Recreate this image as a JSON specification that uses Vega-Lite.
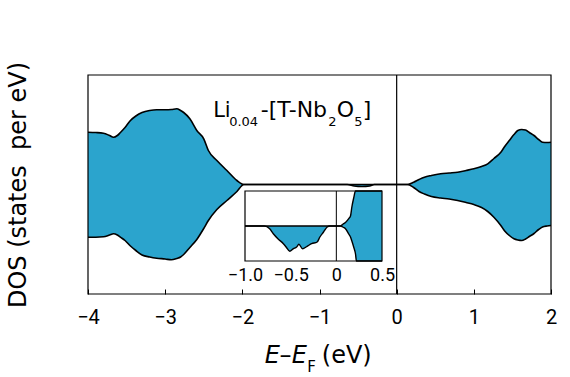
{
  "$schema": "https://vega.github.io/schema/vega-lite/v6.json",
  "width": 463,
  "height": 219,
  "autosize": "none",
  "padding": {"left": 88, "top": 75, "right": 19, "bottom": 83},
  "background": "white",
  "config": {"view": {"stroke": null}},
  "layer": [
    {
      "data": {"values": [
        {"x": -4.00, "up": 52.3, "down": -52.7},
        {"x": -3.90, "up": 52.0, "down": -52.7},
        {"x": -3.80, "up": 51.3, "down": -52.3},
        {"x": -3.72, "up": 49.0, "down": -50.5},
        {"x": -3.67, "up": 47.3, "down": -49.3},
        {"x": -3.62, "up": 49.0, "down": -50.5},
        {"x": -3.58, "up": 52.0, "down": -52.7},
        {"x": -3.52, "up": 57.0, "down": -56.0},
        {"x": -3.45, "up": 64.0, "down": -61.5},
        {"x": -3.38, "up": 68.5, "down": -66.0},
        {"x": -3.30, "up": 72.0, "down": -70.5},
        {"x": -3.20, "up": 74.0, "down": -72.5},
        {"x": -3.11, "up": 74.7, "down": -73.7},
        {"x": -3.00, "up": 74.7, "down": -74.5},
        {"x": -2.92, "up": 75.0, "down": -75.3},
        {"x": -2.85, "up": 75.7, "down": -74.0},
        {"x": -2.80, "up": 74.0, "down": -72.5},
        {"x": -2.76, "up": 72.0, "down": -70.0},
        {"x": -2.68, "up": 65.7, "down": -63.0},
        {"x": -2.59, "up": 54.0, "down": -55.0},
        {"x": -2.50, "up": 45.7, "down": -44.0},
        {"x": -2.44, "up": 34.0, "down": -36.0},
        {"x": -2.33, "up": 24.0, "down": -25.0},
        {"x": -2.20, "up": 14.0, "down": -16.0},
        {"x": -2.07, "up": 4.0, "down": -7.0},
        {"x": -1.98, "up": 0, "down": 0},
        {"x": -1.50, "up": 0, "down": 0},
        {"x": -0.64, "up": 0, "down": 0},
        {"x": -0.55, "up": 0, "down": -1.5},
        {"x": -0.45, "up": 0, "down": -2.0},
        {"x": -0.35, "up": 0, "down": -1.5},
        {"x": -0.29, "up": 0, "down": 0},
        {"x": 0.00, "up": 0, "down": 0},
        {"x": 0.14, "up": 0, "down": 0},
        {"x": 0.22, "up": 2.3, "down": -3.0},
        {"x": 0.29, "up": 5.0, "down": -7.0},
        {"x": 0.36, "up": 7.3, "down": -9.5},
        {"x": 0.45, "up": 9.0, "down": -12.0},
        {"x": 0.57, "up": 10.7, "down": -13.5},
        {"x": 0.68, "up": 11.5, "down": -14.5},
        {"x": 0.79, "up": 12.3, "down": -16.0},
        {"x": 0.90, "up": 14.0, "down": -18.0},
        {"x": 1.00, "up": 15.7, "down": -20.0},
        {"x": 1.10, "up": 18.0, "down": -23.0},
        {"x": 1.18, "up": 20.7, "down": -27.0},
        {"x": 1.26, "up": 26.0, "down": -32.7},
        {"x": 1.35, "up": 32.3, "down": -41.0},
        {"x": 1.40, "up": 38.0, "down": -46.5},
        {"x": 1.46, "up": 44.0, "down": -51.0},
        {"x": 1.52, "up": 50.0, "down": -54.3},
        {"x": 1.57, "up": 54.0, "down": -55.5},
        {"x": 1.62, "up": 55.0, "down": -56.0},
        {"x": 1.67, "up": 54.5, "down": -54.5},
        {"x": 1.72, "up": 52.0, "down": -52.0},
        {"x": 1.78, "up": 49.0, "down": -49.0},
        {"x": 1.84, "up": 45.0, "down": -45.0},
        {"x": 1.89, "up": 42.3, "down": -42.5},
        {"x": 1.95, "up": 42.0, "down": -41.5},
        {"x": 2.00, "up": 42.3, "down": -41.0}
      ]},
      "layer": [
        {
          "mark": {"type": "area", "color": "#2ba4cd", "interpolate": "monotone", "opacity": 1},
          "encoding": {
            "x": {"field": "x", "type": "quantitative",
              "scale": {"domain": [-4, 2], "nice": false, "zero": false},
              "axis": {"orient": "bottom", "offset": -5, "values": [-4, -3, -2, -1, 0, 1, 2], "format": "d", "title": null,
                "labelFont": "Roboto", "labelFontSize": 20, "labelColor": "black", "labelFlush": false,
                "tickSize": 5, "tickColor": "black", "tickWidth": 1, "labelPadding": 13, "domain": false, "grid": false}},
            "y": {"field": "up", "type": "quantitative",
              "scale": {"domain": [-109.5, 109.5], "nice": false, "zero": false},
              "axis": {"title": "DOS (states\u00a0 per eV)", "titleFont": "DejaVu Sans", "titleFontSize": 24,
                "titleFontWeight": "normal", "titleColor": "black", "titlePadding": 58,
                "labels": false, "ticks": false, "domain": false, "grid": false}},
            "y2": {"field": "down"}
          }
        },
        {
          "mark": {"type": "line", "color": "black", "strokeWidth": 1.6, "interpolate": "monotone"},
          "encoding": {
            "x": {"field": "x", "type": "quantitative"},
            "y": {"field": "up", "type": "quantitative"}
          }
        },
        {
          "mark": {"type": "line", "color": "black", "strokeWidth": 1.6, "interpolate": "monotone"},
          "encoding": {
            "x": {"field": "x", "type": "quantitative"},
            "y": {"field": "down", "type": "quantitative"}
          }
        },
        {
          "data": {"values": [{}]},
          "mark": {"type": "rule", "color": "black", "strokeWidth": 1.2},
          "encoding": {"x": {"datum": 0}, "y": {"datum": -109.5}, "y2": {"datum": 109.5}}
        },
        {
          "data": {"values": [{}]},
          "mark": {"type": "rect", "fillOpacity": 0, "stroke": "black", "strokeWidth": 1.2},
          "encoding": {"x": {"datum": -4}, "x2": {"datum": 2}, "y": {"datum": -109.5}, "y2": {"datum": 109.5}}
        },
        {
          "data": {"values": [{}]},
          "mark": {"type": "text", "text": "Li", "align": "left", "baseline": "alphabetic", "font": "DejaVu Sans", "fontSize": 21, "color": "black"},
          "encoding": {"x": {"datum": -2.378}, "y": {"datum": 67.8}}
        },
        {
          "data": {"values": [{}]},
          "mark": {"type": "text", "text": "0.04", "align": "left", "baseline": "alphabetic", "font": "DejaVu Sans", "fontSize": 13, "color": "black"},
          "encoding": {"x": {"datum": -2.171}, "y": {"datum": 58.8}}
        },
        {
          "data": {"values": [{}]},
          "mark": {"type": "text", "text": "-[T-Nb", "align": "left", "baseline": "alphabetic", "font": "DejaVu Sans", "fontSize": 22, "color": "black"},
          "encoding": {"x": {"datum": -1.761}, "y": {"datum": 67.8}}
        },
        {
          "data": {"values": [{}]},
          "mark": {"type": "text", "text": "2", "align": "left", "baseline": "alphabetic", "font": "DejaVu Sans", "fontSize": 13, "color": "black"},
          "encoding": {"x": {"datum": -0.885}, "y": {"datum": 58.8}}
        },
        {
          "data": {"values": [{}]},
          "mark": {"type": "text", "text": "O", "align": "left", "baseline": "alphabetic", "font": "DejaVu Sans", "fontSize": 22, "color": "black"},
          "encoding": {"x": {"datum": -0.775}, "y": {"datum": 67.8}}
        },
        {
          "data": {"values": [{}]},
          "mark": {"type": "text", "text": "5", "align": "left", "baseline": "alphabetic", "font": "DejaVu Sans", "fontSize": 13, "color": "black"},
          "encoding": {"x": {"datum": -0.55}, "y": {"datum": 58.8}}
        },
        {
          "data": {"values": [{}]},
          "mark": {"type": "text", "text": "]", "align": "left", "baseline": "alphabetic", "font": "DejaVu Sans", "fontSize": 22, "color": "black"},
          "encoding": {"x": {"datum": -0.44}, "y": {"datum": 67.8}}
        },
        {
          "data": {"values": [{}]},
          "mark": {"type": "text", "text": "E", "align": "left", "baseline": "alphabetic", "font": "DejaVu Sans", "fontStyle": "italic", "fontSize": 24, "color": "black"},
          "encoding": {"x": {"datum": -1.709}, "y": {"datum": -178.8}}
        },
        {
          "data": {"values": [{}]},
          "mark": {"type": "text", "text": "–", "align": "left", "baseline": "alphabetic", "font": "DejaVu Sans", "fontSize": 24, "color": "black"},
          "encoding": {"x": {"datum": -1.517}, "y": {"datum": -178.8}}
        },
        {
          "data": {"values": [{}]},
          "mark": {"type": "text", "text": "E", "align": "left", "baseline": "alphabetic", "font": "DejaVu Sans", "fontStyle": "italic", "fontSize": 24, "color": "black"},
          "encoding": {"x": {"datum": -1.36}, "y": {"datum": -178.8}}
        },
        {
          "data": {"values": [{}]},
          "mark": {"type": "text", "text": "F", "align": "left", "baseline": "alphabetic", "font": "DejaVu Sans", "fontSize": 15, "color": "black"},
          "encoding": {"x": {"datum": -1.16}, "y": {"datum": -187.2}}
        },
        {
          "data": {"values": [{}]},
          "mark": {"type": "text", "text": "(eV)", "align": "left", "baseline": "alphabetic", "font": "DejaVu Sans", "fontSize": 24, "color": "black"},
          "encoding": {"x": {"datum": -0.97}, "y": {"datum": -178.8}}
        }
      ]
    },
    {
      "data": {"values": [
        {"x": -1.00, "up": 0, "down": 0},
        {"x": -0.79, "up": 0, "down": 0},
        {"x": -0.73, "up": 0, "down": -2.7},
        {"x": -0.69, "up": 0, "down": -7.7},
        {"x": -0.64, "up": 0, "down": -12.7},
        {"x": -0.58, "up": 0, "down": -17.7},
        {"x": -0.55, "up": 0, "down": -21.0},
        {"x": -0.51, "up": 0, "down": -25.3},
        {"x": -0.47, "up": 0, "down": -22.7},
        {"x": -0.435, "up": 0, "down": -21.0},
        {"x": -0.41, "up": 0, "down": -18.3},
        {"x": -0.37, "up": 0, "down": -22.7},
        {"x": -0.32, "up": 0, "down": -20.3},
        {"x": -0.27, "up": 0, "down": -17.7},
        {"x": -0.21, "up": 0, "down": -16.0},
        {"x": -0.18, "up": 0, "down": -11.0},
        {"x": -0.14, "up": 0, "down": -6.0},
        {"x": -0.10, "up": 0, "down": -1.0},
        {"x": -0.07, "up": 0, "down": 0},
        {"x": 0.04, "up": 0, "down": 0},
        {"x": 0.08, "up": 2.3, "down": -1.5},
        {"x": 0.10, "up": 3.5, "down": -2.7},
        {"x": 0.136, "up": 7.3, "down": -8.0},
        {"x": 0.155, "up": 10.0, "down": -11.0},
        {"x": 0.17, "up": 19.0, "down": -15.0},
        {"x": 0.19, "up": 28.0, "down": -21.0},
        {"x": 0.21, "up": 35.0, "down": -28.0},
        {"x": 0.22, "up": 40.0, "down": -35.0},
        {"x": 0.25, "up": 60.0, "down": -60.0},
        {"x": 0.50, "up": 60.0, "down": -60.0}
      ]},
      "layer": [
        {
          "data": {"values": [{}]},
          "mark": {"type": "rect", "fill": "white", "strokeWidth": 0},
          "encoding": {
            "x": {"datum": -1, "scale": {"domain": [-1, 0.5], "range": [157, 294], "nice": false, "zero": false}},
            "x2": {"datum": 0.5},
            "y": {"datum": -35, "scale": {"domain": [-35, 35], "range": [186, 116], "nice": false, "zero": false, "clamp": true}, "axis": null},
            "y2": {"datum": 35}
          }
        },
        {
          "mark": {"type": "area", "color": "#2ba4cd", "interpolate": "monotone"},
          "encoding": {
            "x": {"field": "x", "type": "quantitative",
              "scale": {"domain": [-1, 0.5], "range": [157, 294], "nice": false, "zero": false},
              "axis": {"orient": "bottom", "offset": -33, "values": [-1, -0.5, 0, 0.5],
                "labelExpr": "datum.value == 0 ? '0' : format(datum.value, '.1f')", "title": null,
                "labelFont": "Roboto", "labelFontSize": 18, "labelColor": "black", "labelFlush": false,
                "labelPadding": 5, "ticks": false, "domain": false, "grid": false}},
            "y": {"field": "up", "type": "quantitative",
              "scale": {"domain": [-35, 35], "range": [186, 116], "nice": false, "zero": false, "clamp": true}, "axis": null},
            "y2": {"field": "down"}
          }
        },
        {
          "mark": {"type": "line", "color": "black", "strokeWidth": 1.4, "interpolate": "monotone"},
          "encoding": {
            "x": {"field": "x", "type": "quantitative"},
            "y": {"field": "up", "type": "quantitative", "axis": null}
          }
        },
        {
          "mark": {"type": "line", "color": "black", "strokeWidth": 1.4, "interpolate": "monotone"},
          "encoding": {
            "x": {"field": "x", "type": "quantitative"},
            "y": {"field": "down", "type": "quantitative", "axis": null}
          }
        },
        {
          "data": {"values": [{}]},
          "mark": {"type": "rule", "color": "black", "strokeWidth": 1},
          "encoding": {"x": {"datum": 0}, "y": {"datum": -35, "axis": null}, "y2": {"datum": 35}}
        },
        {
          "data": {"values": [{}]},
          "mark": {"type": "rect", "fillOpacity": 0, "stroke": "black", "strokeWidth": 1.2},
          "encoding": {"x": {"datum": -1}, "x2": {"datum": 0.5}, "y": {"datum": -35, "axis": null}, "y2": {"datum": 35}}
        }
      ]
    }
  ],
  "resolve": {"scale": {"x": "independent", "y": "independent"}, "axis": {"x": "independent", "y": "independent"}}
}
